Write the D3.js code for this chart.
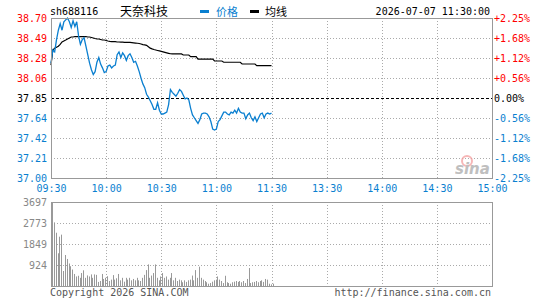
<!DOCTYPE html>
<html>
<head>
<meta charset="utf-8">
<script src="https://cdn.jsdelivr.net/npm/d3@7"></script>
<style>
  body { margin: 0; background: #fff; }
  svg text { font-family: "DejaVu Sans Mono", monospace; font-size: 10px; }
  .cjk { font-family: "Noto Sans CJK SC", sans-serif; }
</style>
</head>
<body>
<svg id="chart" width="545" height="300"></svg>
<script>
// ДАННЫЕ ----------------------------------------------------
const prevClose = 37.85;

const priceLabels = ["38.70", "38.49", "38.28", "38.06", "37.85", "37.64", "37.42", "37.21", "37.00"];
const pctLabels = ["+2.25%", "+1.68%", "+1.12%", "+0.56%", "0.00%", "-0.56%", "-1.12%", "-1.68%", "-2.25%"];
const timeLabels = ["09:30", "10:00", "10:30", "11:00", "11:30", "13:30", "14:00", "14:30", "15:00"];
const volLabels = [3697, 2773, 1849, 924];

// цена по минутам 09:30 - 11:30
const price = [
    38.22, 38.36, 38.34, 38.47, 38.57, 38.64, 38.57, 38.66, 38.68, 38.70,
    38.66, 38.60, 38.67, 38.61, 38.66, 38.51, 38.42, 38.47, 38.49, 38.40,
    38.31, 38.22, 38.15, 38.10, 38.13, 38.23, 38.28, 38.21, 38.17, 38.12,
    38.13, 38.19, 38.20, 38.17, 38.19, 38.20, 38.31, 38.34, 38.28, 38.33,
    38.30, 38.25, 38.30, 38.32, 38.28, 38.23, 38.24, 38.19, 38.13, 38.06,
    38.00, 37.96, 37.89, 37.86, 37.82, 37.78, 37.73, 37.73, 37.80, 37.72,
    37.68, 37.68, 37.69, 37.70, 37.78, 37.94, 37.91, 37.89, 37.87, 37.90,
    37.94, 37.92, 37.88, 37.84, 37.85, 37.83, 37.74, 37.67, 37.64, 37.61,
    37.58, 37.62, 37.68, 37.69, 37.69, 37.68, 37.65, 37.60, 37.52, 37.51,
    37.52, 37.60, 37.62, 37.66, 37.70, 37.70, 37.68, 37.67, 37.70, 37.69,
    37.72, 37.69, 37.74, 37.70, 37.69, 37.69, 37.63, 37.67, 37.69, 37.64,
    37.61, 37.65, 37.60, 37.64, 37.68, 37.69, 37.64, 37.68, 37.69, 37.68,
    37.69
];

// средняя цена (均线)
const avgPrice = [
    38.200, 38.360, 38.380, 38.390, 38.400, 38.420, 38.445, 38.456, 38.466, 38.477,
    38.488, 38.498, 38.498, 38.503, 38.503, 38.503, 38.503, 38.503, 38.503, 38.503,
    38.498, 38.498, 38.493, 38.488, 38.482, 38.477, 38.477, 38.472, 38.466, 38.466,
    38.461, 38.456, 38.452, 38.450, 38.450, 38.448, 38.445, 38.445, 38.444, 38.443,
    38.442, 38.441, 38.440, 38.440, 38.438, 38.436, 38.434, 38.432, 38.429, 38.424,
    38.418, 38.415, 38.410, 38.395, 38.380, 38.372, 38.365, 38.360, 38.355, 38.350,
    38.345, 38.340, 38.335, 38.330, 38.325, 38.320, 38.318, 38.318, 38.318, 38.318,
    38.318, 38.318, 38.307, 38.307, 38.307, 38.307, 38.290, 38.290, 38.290, 38.290,
    38.264, 38.264, 38.264, 38.264, 38.264, 38.264, 38.264, 38.264, 38.264, 38.243,
    38.243, 38.243, 38.243, 38.243, 38.230, 38.230, 38.230, 38.230, 38.230, 38.230,
    38.230, 38.230, 38.230, 38.230, 38.211, 38.211, 38.211, 38.211, 38.211, 38.211,
    38.211, 38.211, 38.193, 38.193, 38.193, 38.193, 38.193, 38.193, 38.193, 38.193,
    38.193
];

// объём по минутам
const volume = [
    3697, 2800, 2345, 1440, 2170, 2260, 660, 1364, 1190, 990,
    870, 725, 530, 420, 450, 360, 570, 690, 360, 465,
    420, 510, 360, 510, 490, 180, 220, 530, 310, 360,
    430, 220, 280, 480, 280, 340, 530, 250, 360, 190,
    360, 280, 360, 250, 310, 250, 360, 250, 220, 360,
    490, 700, 950, 360, 460, 570, 950, 360, 250, 420,
    570, 360, 420, 280, 360, 570, 250, 360, 220, 280,
    250, 165, 250, 180, 250, 280, 460, 250, 700, 360,
    850, 360, 280, 220, 165, 100, 130, 190, 250, 280,
    420, 280, 220, 130, 450, 165, 130, 100, 165, 190,
    220, 180, 220, 165, 220, 130, 310, 790, 130, 165,
    180, 220, 165, 220, 250, 180, 310, 280, 100, 70,
    100
];

// РАЗМЕТКА ---------------------------------------
const left = 51, right = 492;
const pTop = 18, pBottom = 178;
const vTop = 202, vBottom = 286;

const red = "#ff0000";
const blue = "#0a7fd0";
const gray = "#888888";

let svg = d3.select("#chart");

let scX = d3.scaleLinear().domain([0, 240]).range([left, right]);
let scY = d3.scaleLinear().domain([37.00, 38.70]).range([pBottom, pTop]);
let scV = d3.scaleLinear().domain([0, 3697]).range([vBottom, vTop]);

// значения делений цены (равный шаг вокруг вчерашнего закрытия)
const step = (38.70 - prevClose) / 4;
const priceTicks = priceLabels.map((d, i) => 38.70 - i * step);

let labelColor = (i) => i < 4 ? red : (i == 4 ? "#000" : blue);

// СЕТКА ---------------------------------------
let grid = svg.append("g");

priceTicks.forEach((v, i) => {
    if (i == 0 || i == 8) return;
    grid.append("line")
        .attr("x1", left).attr("x2", right)
        .attr("y1", Math.round(scY(v)) + 0.5).attr("y2", Math.round(scY(v)) + 0.5)
        .attr("stroke", i == 4 ? "#000" : "#aaa")
        .attr("stroke-dasharray", i == 4 ? "3,2" : "1,2");
});

volLabels.slice(1).forEach(v => {
    grid.append("line")
        .attr("x1", left).attr("x2", right)
        .attr("y1", Math.round(scV(v)) + 0.5).attr("y2", Math.round(scV(v)) + 0.5)
        .attr("stroke", "#aaa")
        .attr("stroke-dasharray", "1,2");
});

d3.range(1, 8).forEach(k => {
    let x = Math.round(scX(k * 30)) + 0.5;
    [[pTop, pBottom], [vTop, vBottom]].forEach(([a, b]) => {
        grid.append("line")
            .attr("x1", x).attr("x2", x)
            .attr("y1", a).attr("y2", b)
            .attr("stroke", "#aaa")
            .attr("stroke-dasharray", "1,2");
    });
});

// логотип sina
let logo = svg.append("g").attr("opacity", 0.75);
logo.append("circle").attr("cx", 467).attr("cy", 161).attr("r", 5)
    .attr("fill", "none").attr("stroke", "#f4a0a0").attr("stroke-width", 2);
logo.append("text").attr("x", 455).attr("y", 174)
    .style("font-family", "DejaVu Sans").style("font-size", "15px")
    .style("font-weight", "bold").style("font-style", "italic")
    .attr("fill", "#aaa").text("sina");

// ОБЪЁМ ---------------------------------------
svg.append("g").selectAll("line")
    .data(volume)
    .enter()
    .append("line")
    .attr("x1", (d, i) => Math.round(scX(i)) + 1.5)
    .attr("x2", (d, i) => Math.round(scX(i)) + 1.5)
    .attr("y1", vBottom)
    .attr("y2", d => scV(d))
    .attr("stroke", "#999")
    .attr("stroke-width", 1);

// ЛИНИИ ---------------------------------------
let line = d3.line()
    .x((d, i) => scX(i))
    .y(d => scY(d));

svg.append("path")
    .datum(avgPrice)
    .attr("d", line)
    .attr("fill", "none")
    .attr("stroke", "#000")
    .attr("stroke-width", 1.2);

svg.append("path")
    .datum(price)
    .attr("d", line)
    .attr("fill", "none")
    .attr("stroke", blue)
    .attr("stroke-width", 1.3);

// рамки
[[pTop, pBottom], [vTop, vBottom]].forEach(([a, b]) => {
    svg.append("rect")
        .attr("x", left + 0.5).attr("y", a + 0.5)
        .attr("width", right - left).attr("height", b - a)
        .attr("fill", "none").attr("stroke", "#999");
});

// ОСИ ---------------------------------------
let axisL = svg.append("g")
    .attr("transform", `translate(${left - 4}, 0)`)
    .call(d3.axisLeft(scY).tickValues(priceTicks).tickSize(0).tickPadding(0)
        .tickFormat((d, i) => priceLabels[i]));
axisL.select(".domain").remove();
axisL.selectAll("text")
    .style("font-family", "DejaVu Sans Mono").style("font-size", "10px")
    .attr("fill", (d, i) => labelColor(i));

let axisR = svg.append("g")
    .attr("transform", `translate(${right + 2}, 0)`)
    .call(d3.axisRight(scY).tickValues(priceTicks).tickSize(0).tickPadding(0)
        .tickFormat((d, i) => pctLabels[i]));
axisR.select(".domain").remove();
axisR.selectAll("text")
    .style("font-family", "DejaVu Sans Mono").style("font-size", "10px")
    .attr("fill", (d, i) => labelColor(i));

let axisB = svg.append("g")
    .attr("transform", `translate(0, ${pBottom + 7})`)
    .call(d3.axisBottom(scX).tickValues(d3.range(0, 241, 30)).tickSize(0).tickPadding(0)
        .tickFormat((d, i) => timeLabels[i]));
axisB.select(".domain").remove();
axisB.selectAll("text")
    .style("font-family", "DejaVu Sans Mono").style("font-size", "10px")
    .attr("fill", blue);

let axisV = svg.append("g")
    .attr("transform", `translate(${left - 4}, 0)`)
    .call(d3.axisLeft(scV).tickValues(volLabels).tickSize(0).tickPadding(0)
        .tickFormat(d => d));
axisV.select(".domain").remove();
axisV.selectAll("text")
    .style("font-family", "DejaVu Sans Mono").style("font-size", "10px")
    .attr("fill", gray);

// ЗАГОЛОВОК ---------------------------------------
svg.append("text").attr("x", 50).attr("y", 15).attr("fill", "#000").text("sh688116");
svg.append("text").attr("x", 120).attr("y", 16).attr("class", "cjk")
    .style("font-size", "12px").attr("fill", "#000").text("天奈科技");

svg.append("rect").attr("x", 200).attr("y", 10).attr("width", 9).attr("height", 3).attr("fill", blue);
svg.append("text").attr("x", 216).attr("y", 16).attr("class", "cjk")
    .style("font-size", "11px").attr("fill", blue).text("价格");

svg.append("rect").attr("x", 250).attr("y", 10).attr("width", 9).attr("height", 3).attr("fill", "#000");
svg.append("text").attr("x", 265).attr("y", 16).attr("class", "cjk")
    .style("font-size", "11px").attr("fill", "#000").text("均线");

svg.append("text").attr("x", 490).attr("y", 15).attr("text-anchor", "end")
    .attr("fill", "#000").text("2026-07-07 11:30:00");

// подписи внизу
svg.append("text").attr("x", 50).attr("y", 296).attr("fill", "#555").text("Copyright 2026 SINA.COM");
svg.append("text").attr("x", 491).attr("y", 296).attr("text-anchor", "end")
    .attr("fill", "#555").text("http://finance.sina.com.cn");
</script>
</body>
</html>
